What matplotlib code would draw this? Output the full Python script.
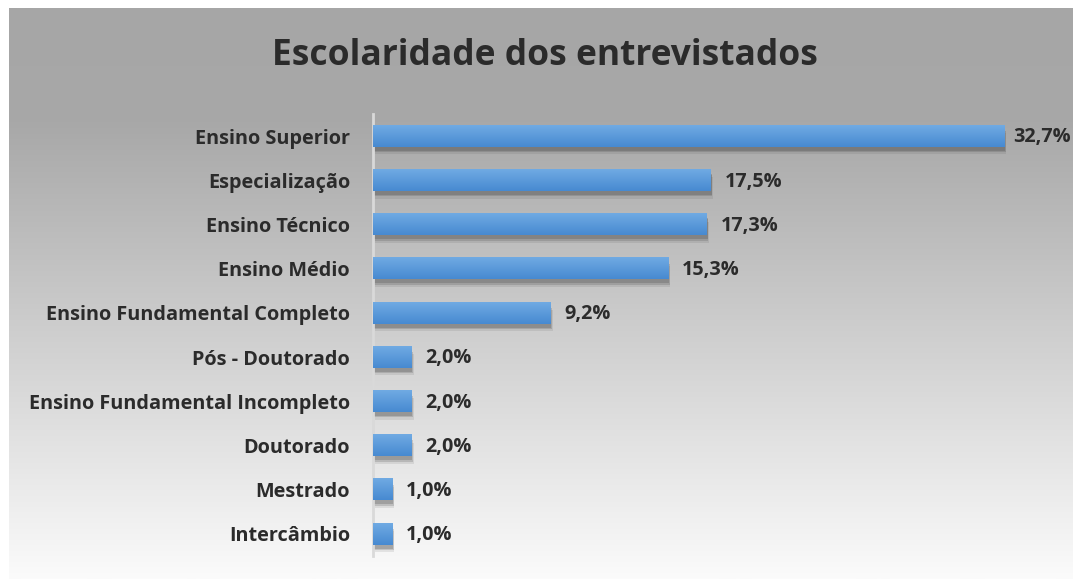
import numpy as np
import matplotlib
matplotlib.use("Agg")
import matplotlib.pyplot as plt
import matplotlib.patheffects as pe

categorias = ["Ensino Superior", "Especialização", "Ensino Técnico", "Ensino Médio",
              "Ensino Fundamental Completo", "Pós - Doutorado",
              "Ensino Fundamental Incompleto", "Doutorado", "Mestrado", "Intercâmbio"]
percentuais = [32.7, 17.5, 17.3, 15.3, 9.2, 2.0, 2.0, 2.0, 1.0, 1.0]
rotulos = ["32,7%", "17,5%", "17,3%", "15,3%", "9,2%", "2,0%", "2,0%", "2,0%", "1,0%", "1,0%"]

W, H = 1073, 579
plt.rcParams['font.family'] = ['Open Sans', 'DejaVu Sans']
texto = '#2b2b2b'
fs = 14.3

fig = plt.figure(figsize=(W / 100, H / 100), dpi=100)
fig.patch.set_facecolor('white')

# fundo com degradê cinza -> branco
bg = fig.add_axes([9 / W, 0, 1 - 9 / W, (H - 8) / H], zorder=-1)
t = np.linspace(0, 1, 400)
g = np.interp(t, [0, 0.2, 1.0], [166, 168, 251]) / 255
bg.imshow(np.repeat(g[:, None, None], 3, axis=2), aspect='auto', extent=(0, 1, 0, 1))
bg.set_axis_off()

ax = fig.add_axes([373 / W, (H - 556) / H, 695 / W, 442 / H])
ax.set_facecolor('none')
y = np.arange(len(categorias))
bars = ax.barh(y, percentuais, height=0.48, color='none', zorder=2,
               path_effects=[pe.SimplePatchShadow(offset=(1, -4), shadow_rgbFace='#3a3a3a', alpha=0.18),
                             pe.SimplePatchShadow(offset=(0.5, -3), shadow_rgbFace='#3a3a3a', alpha=0.22),
                             pe.SimplePatchShadow(offset=(1.5, -5.5), shadow_rgbFace='#3a3a3a', alpha=0.1)])

grad = np.linspace(0, 1, 50)
top = np.array([0x70, 0xaa, 0xe3]) / 255
bot = np.array([0x47, 0x8a, 0xd1]) / 255
img = (top[None, :] * (1 - grad[:, None]) + bot[None, :] * grad[:, None])[:, None, :]
for b in bars:
    x0, y0, w, h = b.get_x(), b.get_y(), b.get_width(), b.get_height()
    ax.imshow(img, extent=(x0, x0 + w, y0 + h, y0), aspect='auto', zorder=3,
              interpolation='bilinear')

ax.set_xlim(0, 36)
ax.set_ylim(len(categorias) - 0.5, -0.5)

textos = []
for b, lab in zip(bars, rotulos):
    textos.append(ax.text(b.get_width() + 0.7, b.get_y() + b.get_height() / 2 + 0.03, lab,
                          va='center', ha='left', fontsize=fs, fontweight='bold', color=texto))

ax.set_yticks(y)
ax.set_yticklabels(categorias, fontsize=fs, fontweight='bold', color=texto)
ax.tick_params(axis='y', length=0, pad=16.5)
ax.set_xticks([])
for s in ['top', 'right', 'bottom']:
    ax.spines[s].set_visible(False)
ax.spines['left'].set_color('#d9d9d9')
ax.spines['left'].set_linewidth(2)

fig.text(545 / W, 1 - 56 / H, "Escolaridade dos entrevistados", ha='center', va='center',
         fontsize=25.5, fontweight='bold', color=texto)

# rótulo que passa da borda: puxa para dentro, como o Excel faz
fig.canvas.draw()
r = fig.canvas.get_renderer()
for tx in textos:
    bb = tx.get_window_extent(r)
    if bb.x1 > W - 2:
        tx.set_x(tx.get_position()[0] - ax.transData.inverted().transform((bb.x1 - (W - 2), 0))[0]
                 + ax.transData.inverted().transform((0, 0))[0])

fig.savefig("out.png", dpi=100)
